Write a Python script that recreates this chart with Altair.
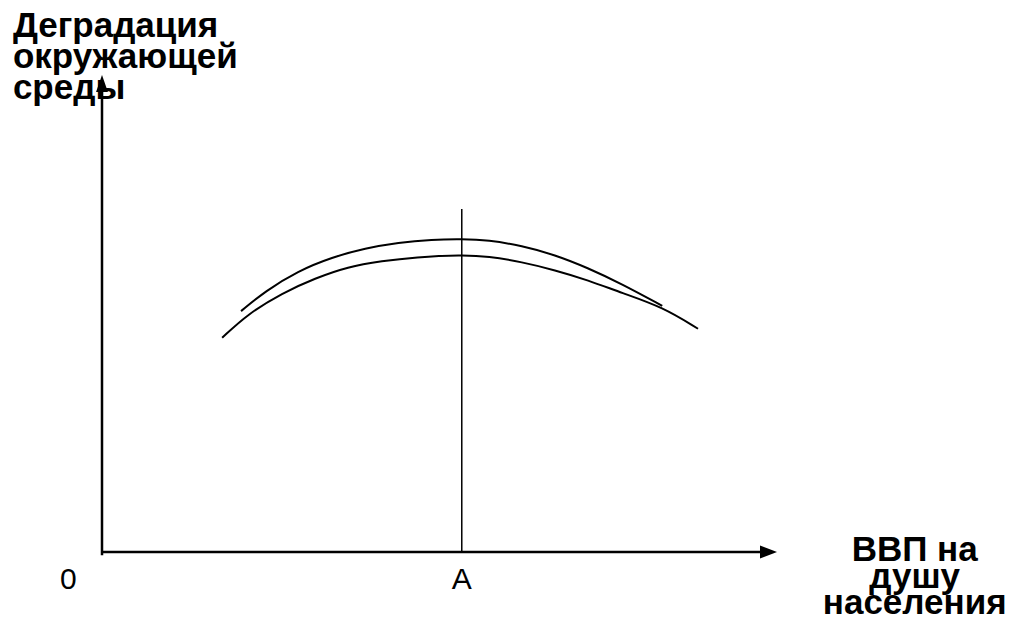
import altair as alt
import pandas as pd

# ---- data ----
upper_x = [20.6, 24.2, 29.0, 34.1, 39.0, 43.9, 48.9, 53.3, 57.2, 62.2, 67.1, 71.9, 77.0, 83.0]
upper_y = [50.5, 54.7, 58.9, 61.8, 63.7, 64.9, 65.5, 65.6, 65.4, 64.2, 62.3, 59.6, 56.2, 51.6]

lower_x = [17.8, 21.6, 26.7, 31.6, 36.4, 41.5, 46.4, 53.3, 57.2, 62.2, 67.1, 72.0, 77.0, 83.0, 88.3]
lower_y = [44.9, 49.9, 54.3, 57.4, 59.8, 61.0, 61.8, 62.3, 62.0, 60.8, 59.1, 57.0, 54.3, 51.4, 46.8]

a_x = 53.3          # position of point A on the income axis
a_top = 71.9        # top of the vertical line through A

y_title_lines = ["Деградация", "окружающей", "среды"]
x_title_lines = ["ВВП на", "душу", "населения"]
tick_labels = ["0", "A"]

# ---- layout constants ----
FONT = "Liberation Sans"
W, H = 675, 477
PAD = {"left": 94, "top": 67, "right": 228, "bottom": 68}

xs = alt.Scale(domain=[0, 100], nice=False, zero=False)
ys = alt.Scale(domain=[0, 100], nice=False, zero=False)
X = lambda f: alt.X(f, type="quantitative", scale=xs, axis=None)
Y = lambda f: alt.Y(f, type="quantitative", scale=ys, axis=None)

curves = pd.concat([
    pd.DataFrame({"x": upper_x, "y": upper_y, "c": "upper"}),
    pd.DataFrame({"x": lower_x, "y": lower_y, "c": "lower"}),
])

curve_layer = alt.Chart(curves).mark_line(
    color="black", strokeWidth=2, interpolate="basis"
).encode(x=X("x"), y=Y("y"), detail="c:N")

axes = pd.DataFrame({
    "x": [0, 97.6, 0, 0],
    "y": [0, 0, -0.7, 97],
    "a": ["x", "x", "y", "y"],
})
axis_layer = alt.Chart(axes).mark_line(color="black", strokeWidth=2.5).encode(
    x=X("x"), y=Y("y"), detail="a:N"
)

heads_x = alt.Chart(pd.DataFrame({"x": [100], "y": [0]})).mark_point(
    shape="M0,0L-2,-0.76L-2,0.76Z", size=289, filled=True, color="black", opacity=1
).encode(x=X("x"), y=Y("y"))
heads_y = alt.Chart(pd.DataFrame({"x": [0], "y": [100]})).mark_point(
    shape="M0,0L-0.7,2L0.7,2Z", size=289, filled=True, color="black", opacity=1
).encode(x=X("x"), y=Y("y"))

vline = alt.Chart(pd.DataFrame({"x": [a_x], "y": [0], "y2": [a_top]})).mark_rule(
    color="black", strokeWidth=1.5
).encode(x=X("x"), y=Y("y"), y2="y2")

ticks = pd.DataFrame({"t": tick_labels, "x": [-5.0, a_x], "y": [-7.8, -7.8]})
tick_layer = alt.Chart(ticks).mark_text(
    font=FONT, fontSize=30, color="black", align="center", baseline="alphabetic"
).encode(x=X("x"), y=Y("y"), text="t:N")

ytitle = pd.DataFrame({"t": y_title_lines, "x": [-13.2] * 3, "y": [108.0, 101.5, 95.0]})
ytitle_layer = alt.Chart(ytitle).mark_text(
    font=FONT, fontSize=35, fontWeight="bold", color="black",
    align="left", baseline="alphabetic"
).encode(x=X("x"), y=Y("y"), text="t:N")

xtitle = pd.DataFrame({"t": x_title_lines, "x": [120.4] * 3, "y": [-1.9, -7.55, -13.0]})
xtitle_layer = alt.Chart(xtitle).mark_text(
    font=FONT, fontSize=35, fontWeight="bold", color="black",
    align="center", baseline="alphabetic"
).encode(x=X("x"), y=Y("y"), text="t:N")

chart = alt.layer(
    curve_layer, vline, axis_layer, heads_x, heads_y,
    tick_layer, ytitle_layer, xtitle_layer
).properties(
    width=W, height=H, padding=PAD, background="white",
    autosize=alt.AutoSizeParams(type="none"),
).configure_view(stroke=None)

chart.save("out.html", embed_options={"renderer": "svg", "actions": False})
